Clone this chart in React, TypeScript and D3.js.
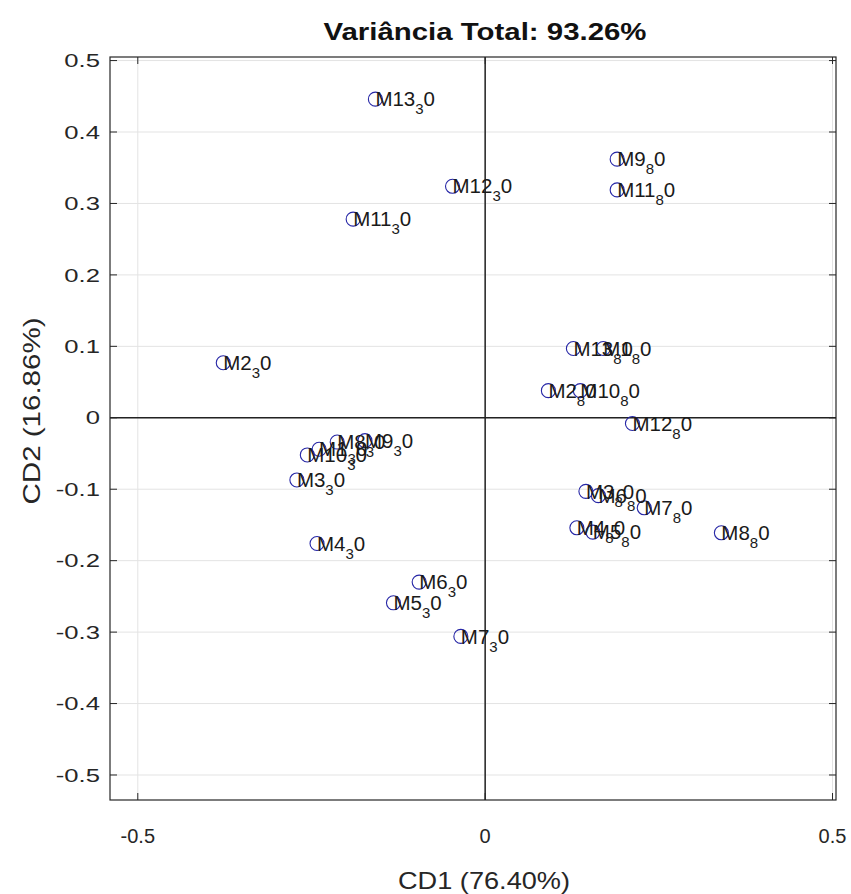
import React from "react"
import { scaleLinear } from "d3"

const width = 851
const height = 894

// box edges in pixels
const margin = { top: 57, right: 15, bottom: 94, left: 110 }

const title = "Variância Total: 93.26%"
const xLabel = "CD1 (76.40%)"
const yLabel = "CD2 (16.86%)"

const xTicks = [-0.5, 0, 0.5]
const yTicks = [0.5, 0.4, 0.3, 0.2, 0.1, 0, -0.1, -0.2, -0.3, -0.4, -0.5]

// samples at 30
const names30 = ["M13_30", "M12_30", "M11_30", "M2_30", "M10_30", "M1_30", "M8_30", "M9_30", "M3_30", "M4_30", "M6_30", "M5_30", "M7_30"]
const cd1_30 = [-0.158, -0.047, -0.190, -0.377, -0.256, -0.239, -0.213, -0.173, -0.271, -0.242, -0.095, -0.132, -0.035]
const cd2_30 = [0.446, 0.324, 0.278, 0.077, -0.052, -0.044, -0.034, -0.032, -0.087, -0.176, -0.230, -0.259, -0.306]

// samples at 80
const names80 = ["M9_80", "M11_80", "M13_80", "M1_80", "M2_80", "M10_80", "M12_80", "M3_80", "M6_80", "M7_80", "M4_80", "M5_80", "M8_80"]
const cd1_80 = [0.190, 0.190, 0.127, 0.170, 0.091, 0.137, 0.212, 0.145, 0.163, 0.229, 0.132, 0.155, 0.340]
const cd2_80 = [0.362, 0.319, 0.097, 0.097, 0.038, 0.038, -0.008, -0.103, -0.109, -0.126, -0.154, -0.160, -0.161]

const points = [
  ...names30.map((n, i) => ({ name: n, x: cd1_30[i], y: cd2_30[i] })),
  ...names80.map((n, i) => ({ name: n, x: cd1_80[i], y: cd2_80[i] })),
]

const font = "'Liberation Sans', Arial, Helvetica, sans-serif"
const textColor = "#262626"

// "M13_30" -> M13 with subscript 3, then 0 (TeX style)
function Label({ name, x, y }) {
  const [base, rest] = name.split("_")
  return (
    <text x={x} y={y} dy="0.35em" fontSize={20.5} fill="#1a1a1a" fontFamily={font}>
      {base}
      <tspan fontSize={15} dy={8}>{rest[0]}</tspan>
      <tspan dy={-8}>{rest.slice(1)}</tspan>
    </text>
  )
}

function App() {
  const innerRight = width - margin.right
  const innerBottom = height - margin.bottom

  const xScale = scaleLinear().domain([-0.54, 0.505]).range([margin.left, innerRight])
  const yScale = scaleLinear().domain([-0.535, 0.505]).range([innerBottom, margin.top])

  return (
    <svg width={width} height={height} style={{ position: "absolute", left: 0, top: 0, background: "white" }}>
      {/* grid */}
      {yTicks.map(t => (
        <line key={"gy" + t} x1={margin.left} x2={innerRight} y1={yScale(t)} y2={yScale(t)} stroke="#e3e3e3" />
      ))}
      {xTicks.map(t => (
        <line key={"gx" + t} x1={xScale(t)} x2={xScale(t)} y1={margin.top} y2={innerBottom} stroke="#e3e3e3" />
      ))}

      {/* zero lines */}
      <line x1={margin.left} x2={innerRight} y1={yScale(0)} y2={yScale(0)} stroke="#222" strokeWidth={1.5} />
      <line x1={xScale(0)} x2={xScale(0)} y1={margin.top} y2={innerBottom} stroke="#222" strokeWidth={1.5} />

      {/* ticks */}
      {yTicks.map(t => (
        <g key={"ty" + t}>
          <line x1={margin.left} x2={margin.left + 7} y1={yScale(t)} y2={yScale(t)} stroke="#262626" />
          <line x1={innerRight} x2={innerRight - 7} y1={yScale(t)} y2={yScale(t)} stroke="#262626" />
          <text x={100} y={yScale(t)} dy="0.35em" textAnchor="end" fontSize={19} fill={textColor} fontFamily={font}
            transform={`translate(100,0) scale(1.35,1) translate(-100,0)`}>
            {t}
          </text>
        </g>
      ))}
      {xTicks.map(t => (
        <g key={"tx" + t}>
          <line x1={xScale(t)} x2={xScale(t)} y1={innerBottom} y2={innerBottom - 7} stroke="#262626" />
          <line x1={xScale(t)} x2={xScale(t)} y1={margin.top} y2={margin.top + 7} stroke="#262626" />
          <text x={xScale(t)} y={843} textAnchor="middle" fontSize={20} fill={textColor} fontFamily={font}>
            {t}
          </text>
        </g>
      ))}

      {/* box */}
      <rect x={margin.left} y={margin.top} width={innerRight - margin.left} height={innerBottom - margin.top}
        fill="none" stroke="#262626" strokeWidth={1.2} />

      {/* points */}
      {points.map(p => (
        <circle key={"c" + p.name} cx={xScale(p.x)} cy={yScale(p.y)} r={7} fill="none" stroke="#2626a6" strokeWidth={1.1} />
      ))}
      {points.map(p => (
        <Label key={"l" + p.name} name={p.name} x={xScale(p.x)} y={yScale(p.y)} />
      ))}

      {/* titles */}
      <text x={485} y={40} textAnchor="middle" fontSize={24} fontWeight="bold" fill="#111" fontFamily={font}
        textLength={323} lengthAdjust="spacingAndGlyphs">
        {title}
      </text>
      <text x={484} y={889} textAnchor="middle" fontSize={24} fill={textColor} fontFamily={font}
        textLength={172} lengthAdjust="spacingAndGlyphs">
        {xLabel}
      </text>
      <text transform={`translate(40, 411) rotate(-90)`} textAnchor="middle" fontSize={24} fill={textColor} fontFamily={font}
        textLength={187} lengthAdjust="spacingAndGlyphs">
        {yLabel}
      </text>
    </svg>
  )
}

export default App
